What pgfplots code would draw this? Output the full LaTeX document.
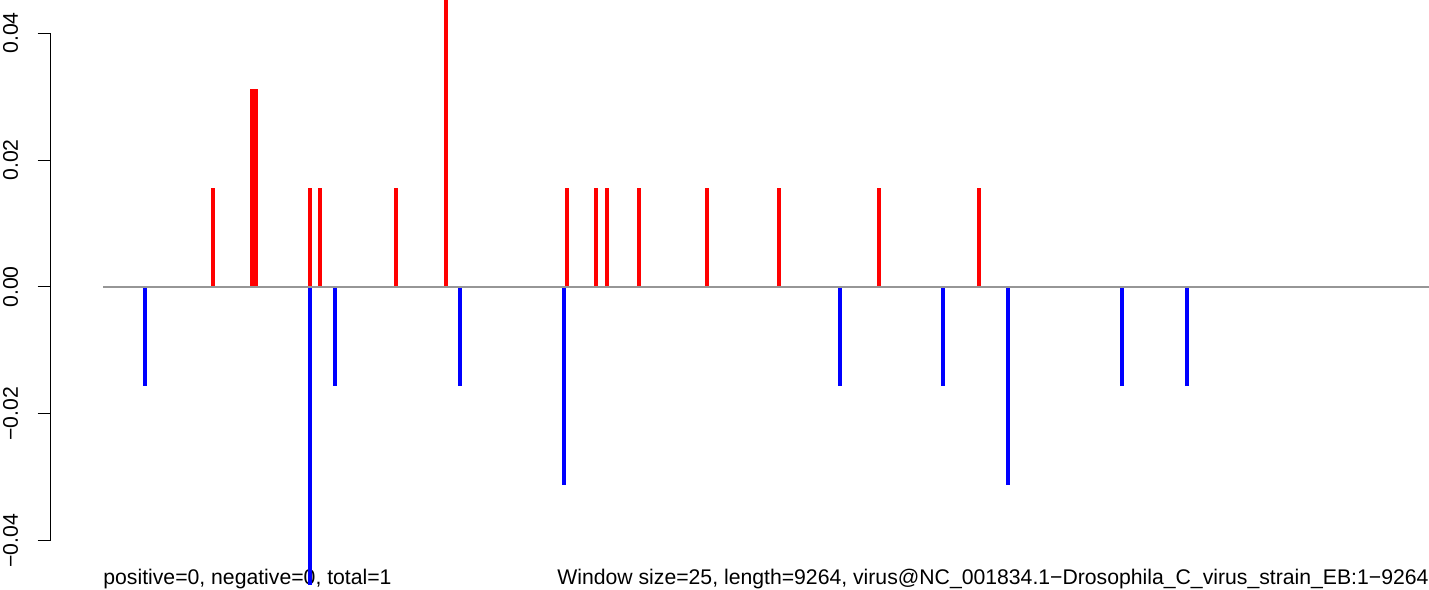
\documentclass[border=0pt]{standalone}
\usepackage{pgfplots}
\pgfplotsset{compat=1.18}
\usepackage{fontspec}
\setmainfont{Liberation Sans}
\definecolor{zeroline}{RGB}{150,150,150}
\begin{document}
\begin{tikzpicture}
\begin{axis}[
  name=ax,
  scale only axis,
  width=689.15bp, height=295bp,
  xmin=-365.4, xmax=9264,
  ymin=-0.04772, ymax=0.04520,
  axis x line=none,
  y axis line style={draw=none},
  scaled y ticks=false,
  ytick pos=left,
  tick align=outside,
  major tick length=6.5bp,
  ytick style={black, line width=0.5bp},
  ytick={-0.04,-0.02,0,0.02,0.04},
  yticklabels={−0.04,−0.02,0.00,0.02,0.04},
  yticklabel style={rotate=90, anchor=south, inner sep=0pt, font=\fontsize{10.6bp}{12bp}\selectfont},
  yticklabel shift=9.6bp,
  every axis plot/.append style={ycomb, no markers, line width=2bp},
]
\node[anchor=base west, inner sep=0pt, font=\fontsize{10.6bp}{12bp}\selectfont] at (axis cs:0,-0.04693) {positive=0, negative=0, total=1};
\node[anchor=base east, inner sep=0pt, font=\fontsize{10.6bp}{12bp}\selectfont] at (axis cs:9264,-0.04693) {Window size=25, length=9264, virus@NC\_001834.1−Drosophila\_C\_virus\_strain\_EB:1−9264};
\addplot[red] coordinates {
(768.5,0.015625) (1041,0.03125) (1069,0.03125) (1446,0.015625) (1516,0.015625)
(2047,0.015625) (2396,0.046875) (3242,0.015625) (3444,0.015625) (3521,0.015625)
(3745,0.015625) (4220,0.015625) (4723,0.015625) (5421,0.015625) (6120,0.015625)
};
\addplot[blue] coordinates {
(293,-0.015625) (1446,-0.046875) (1621,-0.015625) (2494,-0.015625) (3221,-0.03125)
(5149,-0.015625) (5869,-0.015625) (6323,-0.03125) (7119,-0.015625) (7573,-0.015625)
};
\addplot[zeroline, sharp plot, line width=0.6bp] coordinates {(0,0) (9264,0)};
\coordinate (ya) at (axis cs:-365.4,-0.04);
\coordinate (yb) at (axis cs:-365.4,0.04);
\end{axis}
\draw[black, line width=0.5bp] (ya) -- (yb);
\pgfresetboundingbox
\path[use as bounding box] (ax.south west) ++(-25.35bp,0) rectangle (ax.north east);
\end{tikzpicture}
\end{document}
